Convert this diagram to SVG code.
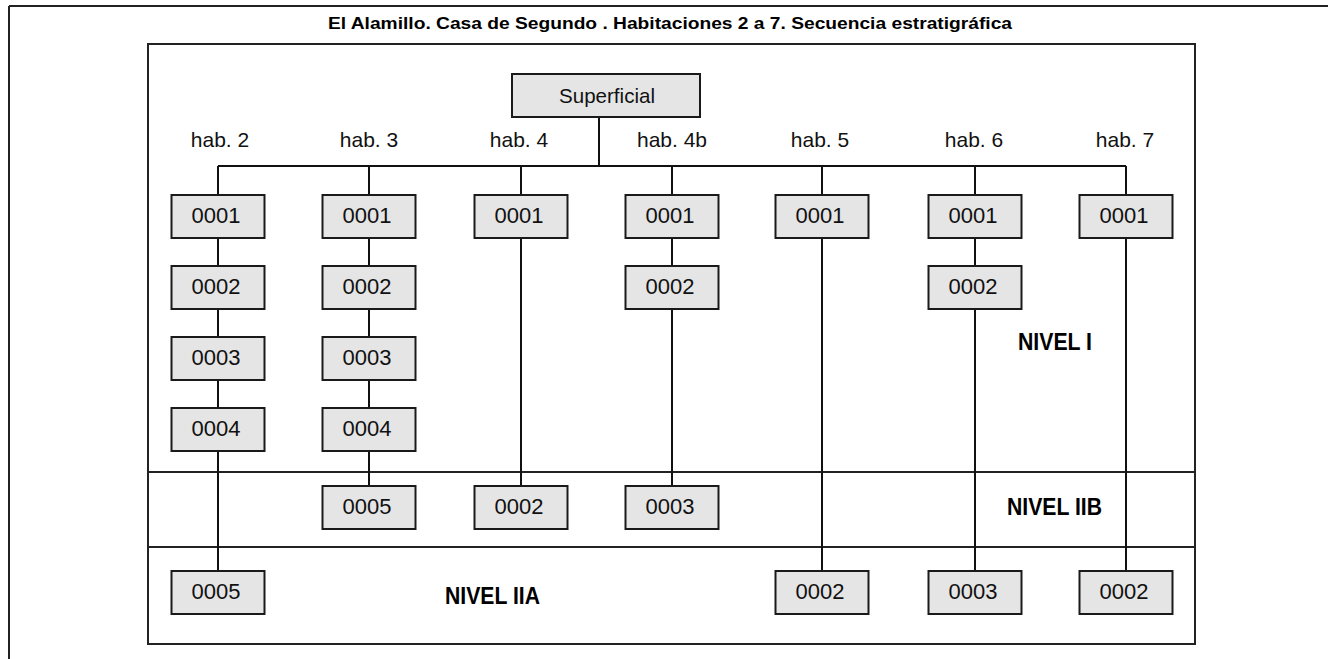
<svg xmlns="http://www.w3.org/2000/svg" width="1329" height="659" viewBox="0 0 1329 659">
<style>
.box{fill:#e5e5e5;stroke:#1a1a1a;stroke-width:2}
.lbl{font-family:"Liberation Sans",Arial,sans-serif;font-size:22px;fill:#111;text-anchor:middle}
.hab{font-family:"Liberation Sans",Arial,sans-serif;font-size:21px;fill:#111;text-anchor:middle}
.niv{font-family:"Liberation Sans",Arial,sans-serif;font-size:23px;font-weight:bold;fill:#000}
.ttl{font-family:"Liberation Sans",Arial,sans-serif;font-size:17px;font-weight:bold;fill:#000}
.ln{stroke:#111;stroke-width:2;fill:none}
.frm{stroke:#222;stroke-width:2;fill:none}
</style>
<rect width="1329" height="659" fill="#fff"/>
<g id="frame">
<line class="frm" x1="9" y1="6" x2="1328" y2="6"/>
<line class="frm" x1="9" y1="6" x2="9" y2="659"/>
<rect class="frm" x="148" y="44" width="1047" height="600"/>
<line class="frm" x1="148" y1="472" x2="1195" y2="472"/>
<line class="frm" x1="148" y1="547" x2="1195" y2="547"/>
</g>
<text class="ttl" x="328" y="29" textLength="684" lengthAdjust="spacingAndGlyphs">El Alamillo. Casa de Segundo . Habitaciones 2 a 7. Secuencia estratigráfica</text>
<g id="connectors">
<line class="ln" x1="599" y1="117" x2="599" y2="166"/>
<line class="ln" x1="218" y1="166" x2="1126" y2="166"/>
<line class="ln" x1="218" y1="166" x2="218" y2="571"/>
<line class="ln" x1="369" y1="166" x2="369" y2="486"/>
<line class="ln" x1="521" y1="166" x2="521" y2="486"/>
<line class="ln" x1="672" y1="166" x2="672" y2="486"/>
<line class="ln" x1="822" y1="166" x2="822" y2="571"/>
<line class="ln" x1="975" y1="166" x2="975" y2="571"/>
<line class="ln" x1="1126" y1="166" x2="1126" y2="571"/>
</g>
<g id="superficial"><rect class="box" x="512" y="74" width="188" height="43"/><text class="hab" x="607" y="103" textLength="96" lengthAdjust="spacingAndGlyphs">Superficial</text></g>
<g id="hab-labels">
<text class="hab" x="220" y="147">hab. 2</text>
<text class="hab" x="369" y="147">hab. 3</text>
<text class="hab" x="519" y="147">hab. 4</text>
<text class="hab" x="672" y="147">hab. 4b</text>
<text class="hab" x="820" y="147">hab. 5</text>
<text class="hab" x="974" y="147">hab. 6</text>
<text class="hab" x="1125" y="147">hab. 7</text>
</g>
<g id="h2-0001"><rect class="box" x="171.5" y="195" width="93" height="43"/><text class="lbl" x="216" y="223">0001</text></g>
<g id="h2-0002"><rect class="box" x="171.5" y="266" width="93" height="43"/><text class="lbl" x="216" y="294">0002</text></g>
<g id="h2-0003"><rect class="box" x="171.5" y="337" width="93" height="43"/><text class="lbl" x="216" y="365">0003</text></g>
<g id="h2-0004"><rect class="box" x="171.5" y="408" width="93" height="43"/><text class="lbl" x="216" y="436">0004</text></g>
<g id="h2-0005"><rect class="box" x="171.5" y="571" width="93" height="43"/><text class="lbl" x="216" y="599">0005</text></g>
<g id="h3-0001"><rect class="box" x="322.5" y="195" width="93" height="43"/><text class="lbl" x="367" y="223">0001</text></g>
<g id="h3-0002"><rect class="box" x="322.5" y="266" width="93" height="43"/><text class="lbl" x="367" y="294">0002</text></g>
<g id="h3-0003"><rect class="box" x="322.5" y="337" width="93" height="43"/><text class="lbl" x="367" y="365">0003</text></g>
<g id="h3-0004"><rect class="box" x="322.5" y="408" width="93" height="43"/><text class="lbl" x="367" y="436">0004</text></g>
<g id="h3-0005"><rect class="box" x="322.5" y="486" width="93" height="43"/><text class="lbl" x="367" y="514">0005</text></g>
<g id="h4-0001"><rect class="box" x="474.5" y="195" width="93" height="43"/><text class="lbl" x="519" y="223">0001</text></g>
<g id="h4-0002"><rect class="box" x="474.5" y="486" width="93" height="43"/><text class="lbl" x="519" y="514">0002</text></g>
<g id="h4b-0001"><rect class="box" x="625.5" y="195" width="93" height="43"/><text class="lbl" x="670" y="223">0001</text></g>
<g id="h4b-0002"><rect class="box" x="625.5" y="266" width="93" height="43"/><text class="lbl" x="670" y="294">0002</text></g>
<g id="h4b-0003"><rect class="box" x="625.5" y="486" width="93" height="43"/><text class="lbl" x="670" y="514">0003</text></g>
<g id="h5-0001"><rect class="box" x="775.5" y="195" width="93" height="43"/><text class="lbl" x="820" y="223">0001</text></g>
<g id="h5-0002"><rect class="box" x="775.5" y="571" width="93" height="43"/><text class="lbl" x="820" y="599">0002</text></g>
<g id="h6-0001"><rect class="box" x="928.5" y="195" width="93" height="43"/><text class="lbl" x="973" y="223">0001</text></g>
<g id="h6-0002"><rect class="box" x="928.5" y="266" width="93" height="43"/><text class="lbl" x="973" y="294">0002</text></g>
<g id="h6-0003"><rect class="box" x="928.5" y="571" width="93" height="43"/><text class="lbl" x="973" y="599">0003</text></g>
<g id="h7-0001"><rect class="box" x="1079.5" y="195" width="93" height="43"/><text class="lbl" x="1124" y="223">0001</text></g>
<g id="h7-0002"><rect class="box" x="1079.5" y="571" width="93" height="43"/><text class="lbl" x="1124" y="599">0002</text></g>
<g id="levels">
<text class="niv" x="1018" y="350" textLength="74" lengthAdjust="spacingAndGlyphs">NIVEL I</text>
<text class="niv" x="1007" y="515" textLength="95" lengthAdjust="spacingAndGlyphs">NIVEL IIB</text>
<text class="niv" x="445" y="604" textLength="95" lengthAdjust="spacingAndGlyphs">NIVEL IIA</text>
</g>
</svg>
